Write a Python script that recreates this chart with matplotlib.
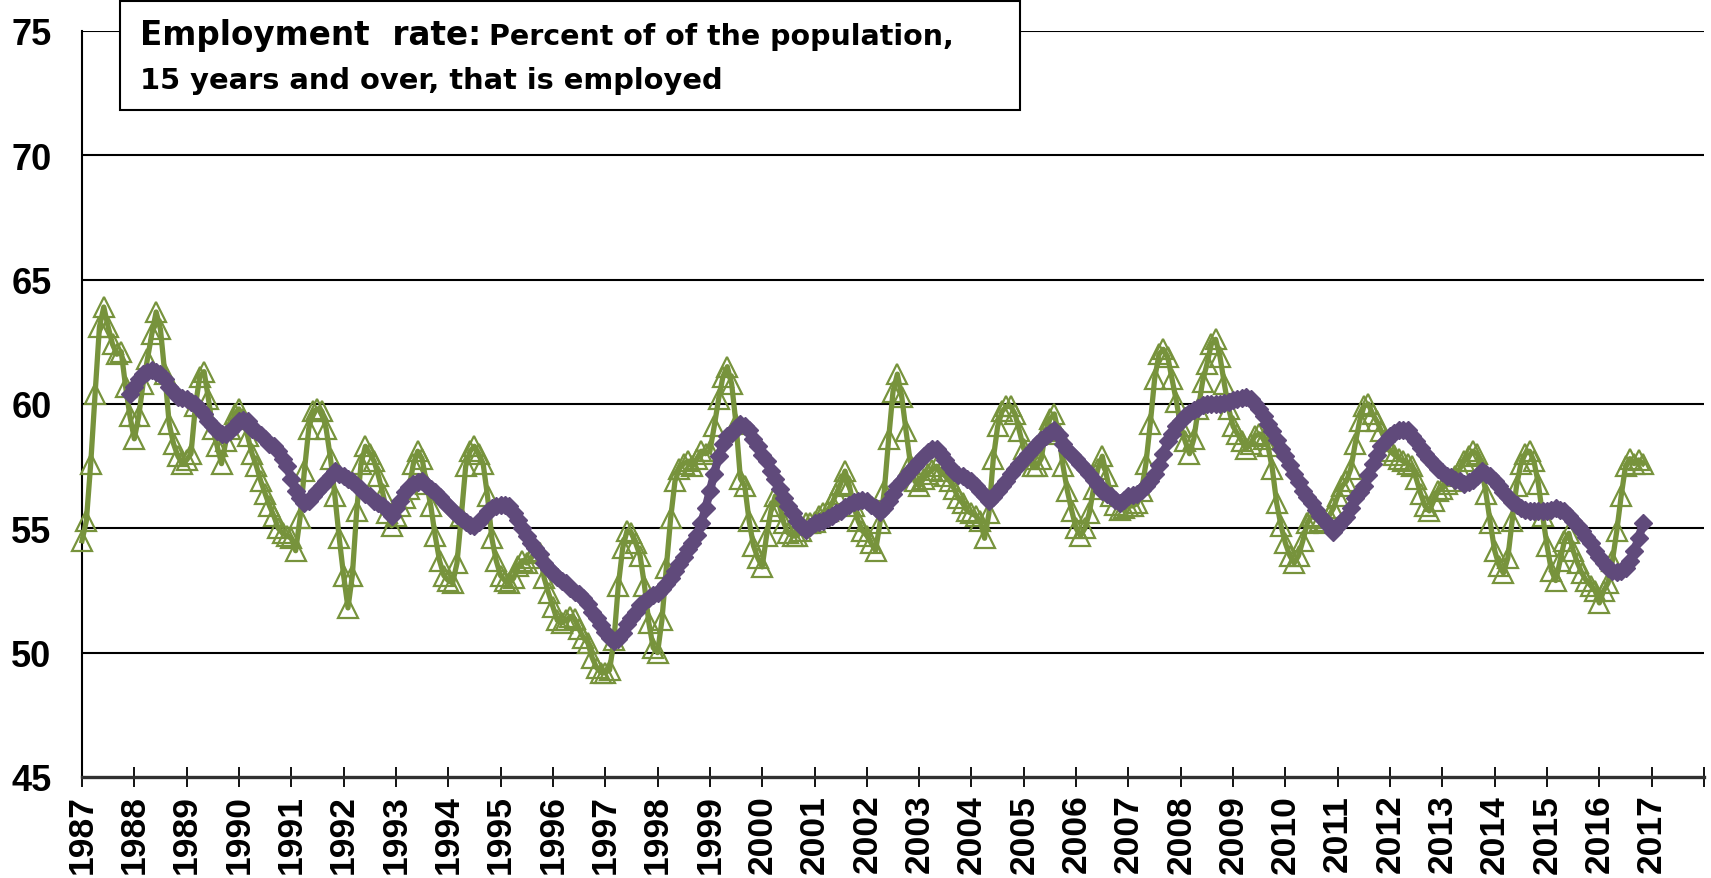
import matplotlib
matplotlib.use("Agg")
import matplotlib.pyplot as plt
import numpy as np
from matplotlib.patches import Rectangle

# ---------------- data ----------------
start_year = 1987
# monthly employment rate, Jan 1987 .. Nov 2016
employment_rate = [
    54.5, 55.3, 57.6, 60.4, 63.1, 63.9, 63.1, 62.4, 62.0, 62.1, 60.7, 59.5,   # 1987
    58.6, 59.5, 60.8, 61.8, 62.8, 63.7, 63.0, 61.2, 59.2, 58.4, 57.9, 57.6,   # 1988
    57.75, 58.0, 59.9, 61.1, 61.3, 60.2, 59.0, 58.3, 57.6, 58.5, 59.0, 59.6,  # 1989
    59.8, 59.4, 58.7, 58.0, 57.5, 56.9, 56.4, 55.9, 55.5, 55.0, 54.8, 54.7,   # 1990
    54.6, 54.1, 55.4, 57.3, 59.0, 59.7, 59.8, 59.7, 59.0, 57.8, 56.3, 54.6,   # 1991
    53.1, 51.8, 53.1, 55.7, 57.6, 58.3, 58.0, 57.7, 57.1, 56.4, 55.6, 55.1,   # 1992
    55.5, 55.9, 56.2, 56.6, 57.6, 58.1, 57.8, 56.8, 55.9, 54.7, 53.7, 53.1,   # 1993
    52.9, 52.8, 53.6, 55.5, 57.5, 58.1, 58.3, 58.0, 57.6, 56.3, 54.6, 53.7,   # 1994
    53.1, 52.9, 52.8, 53.0, 53.5, 53.7, 53.6, 53.8, 54.1, 54.0, 53.0, 52.4,   # 1995
    51.85, 51.3, 51.2, 51.3, 51.45, 51.35, 50.95, 50.6, 50.4, 49.8, 49.4, 49.2,  # 1996
    49.2, 49.3, 50.5, 52.7, 54.2, 54.9, 54.8, 54.4, 53.9, 52.7, 51.2, 50.2,   # 1997
    50.0, 51.3, 53.4, 55.4, 56.9, 57.4, 57.6, 57.7, 57.5, 57.8, 58.1, 58.0,   # 1998
    58.1, 59.1, 60.2, 61.1, 61.5, 60.8, 59.2, 57.0, 56.7, 55.3, 54.3, 53.8,   # 1999
    53.45, 54.7, 55.7, 56.3, 55.9, 55.2, 54.8, 54.7, 54.7, 54.9, 55.2, 55.2,  # 2000
    55.25, 55.5, 55.6, 55.7, 56.0, 56.4, 56.8, 57.3, 56.7, 55.9, 55.3, 54.9,  # 2001
    54.7, 54.4, 54.1, 55.2, 56.5, 58.6, 60.5, 61.2, 60.3, 58.9, 57.6, 56.9,   # 2002
    56.7, 57.0, 57.2, 57.35, 57.5, 57.3, 57.1, 56.9, 56.6, 56.2, 56.0, 55.7,  # 2003
    55.6, 55.5, 55.3, 54.6, 55.6, 57.8, 59.1, 59.7, 59.9, 59.9, 59.6, 58.9,   # 2004
    58.2, 57.8, 57.5, 57.5, 57.8, 58.9, 59.4, 59.6, 58.8, 57.5, 56.5, 55.7,   # 2005
    55.0, 54.7, 55.0, 55.6, 56.6, 57.4, 57.9, 57.1, 56.3, 55.95, 55.75, 55.8, # 2006
    55.9, 55.9, 56.0, 56.5, 57.6, 59.2, 61.0, 62.0, 62.2, 61.9, 61.0, 60.1,   # 2007
    59.1, 58.5, 58.0, 58.6, 59.8, 60.9, 61.6, 62.4, 62.6, 61.9, 60.8, 59.8,   # 2008
    59.1, 58.8, 58.5, 58.2, 58.4, 58.7, 58.8, 58.6, 58.3, 57.4, 56.0, 55.1,   # 2009
    54.4, 53.9, 53.6, 53.9, 54.5, 55.2, 55.5, 55.4, 55.3, 55.2, 55.5, 55.8,   # 2010
    56.3, 56.7, 56.9, 57.4, 58.4, 59.3, 59.9, 60.0, 59.6, 59.3, 58.9, 58.5,   # 2011
    58.1, 57.95, 57.8, 57.7, 57.6, 57.5, 57.0, 56.4, 55.9, 55.7, 56.1, 56.5,  # 2012
    56.6, 56.8, 56.9, 57.1, 57.4, 57.7, 57.9, 58.1, 58.0, 57.4, 56.4, 55.2,   # 2013
    54.1, 53.5, 53.2, 53.8, 55.3, 56.7, 57.6, 58.0, 58.1, 57.7, 56.8, 55.5,   # 2014
    54.3, 53.3, 52.9, 53.7, 54.5, 54.8, 54.1, 53.6, 53.2, 52.9, 52.7, 52.5,   # 2015
    52.0, 52.5, 52.8, 53.7, 54.9, 56.3, 57.5, 57.8, 57.6, 57.75, 57.6,        # 2016
]

# 12-month moving average, Dec 1987 .. Nov 2016
ma_first_month = 11
moving_average = [
    60.4, 60.7, 61.0, 61.2, 61.3, 61.35, 61.3, 61.2, 61.0, 60.7, 60.5, 60.3, 60.25,
    60.2, 60.1, 60.0, 59.8, 59.6, 59.3, 59.1, 58.9, 58.8, 58.8, 58.9, 59.1,
    59.3, 59.35, 59.3, 59.0, 58.9, 58.75, 58.6, 58.4, 58.3, 58.1, 57.8, 57.5,
    57.0, 56.5, 56.2, 56.0, 56.1, 56.3, 56.5, 56.7, 56.9, 57.1, 57.3, 57.2,
    57.1, 57.0, 56.9, 56.7, 56.6, 56.4, 56.3, 56.1, 56.0, 55.9, 55.75, 55.5,
    55.8, 56.1, 56.45, 56.65, 56.8, 56.85, 56.9, 56.75, 56.6, 56.45, 56.25, 56.05,
    55.9, 55.7, 55.55, 55.4, 55.25, 55.15, 55.1, 55.25, 55.45, 55.7, 55.8, 55.9,
    55.95, 55.95, 55.9, 55.6, 55.35, 55.0, 54.7, 54.4, 54.2, 53.95, 53.6, 53.35,
    53.2, 53.05, 52.9, 52.8, 52.6, 52.45, 52.35, 52.2, 51.95, 51.65, 51.4, 51.1,
    50.85, 50.6, 50.45, 50.55, 50.8, 51.15, 51.4, 51.65, 51.9, 52.05, 52.2, 52.3,
    52.4, 52.55, 52.75, 53.0, 53.3, 53.55, 53.85, 54.15, 54.4, 54.75, 55.2, 55.8,
    56.5, 57.2, 57.9, 58.4, 58.7, 58.85, 59.05, 59.2, 59.1, 58.95, 58.6, 58.3,
    57.95, 57.7, 57.3, 57.0, 56.6, 56.2, 55.9, 55.6, 55.3, 55.1, 54.95, 55.05,
    55.2, 55.25, 55.3, 55.4, 55.5, 55.6, 55.7, 55.85, 55.95, 56.05, 56.1, 56.15,
    56.1, 55.95, 55.8, 55.65, 55.8, 56.1, 56.4, 56.7, 56.9, 57.1, 57.3, 57.5,
    57.7, 57.9, 58.05, 58.2, 58.2, 58.0, 57.75, 57.45, 57.25, 57.15, 57.1, 57.0,
    56.9, 56.7, 56.5, 56.3, 56.1, 56.25, 56.5, 56.7, 56.9, 57.2, 57.4, 57.6,
    57.8, 58.0, 58.2, 58.4, 58.55, 58.7, 58.85, 58.95, 58.75, 58.4, 58.15, 57.95,
    57.8, 57.6, 57.4, 57.2, 56.95, 56.75, 56.5, 56.4, 56.3, 56.15, 56.0, 56.15,
    56.3, 56.35, 56.4, 56.55, 56.7, 56.9, 57.2, 57.55, 58.0, 58.5, 58.8, 59.1,
    59.3, 59.5, 59.65, 59.75, 59.85, 59.95, 60.0, 60.0, 60.0, 60.0, 60.05, 60.1,
    60.15, 60.2, 60.25, 60.3, 60.2, 60.0, 59.8, 59.5, 59.2, 58.9, 58.55, 58.2,
    57.9, 57.55, 57.2, 56.85, 56.5, 56.25, 56.0, 55.75, 55.5, 55.3, 55.1, 54.85,
    55.1, 55.3, 55.45, 55.8, 56.2, 56.45, 56.7, 57.15, 57.6, 57.95, 58.3, 58.5,
    58.7, 58.85, 58.95, 58.95, 58.95, 58.7, 58.5, 58.25, 58.0, 57.8, 57.6, 57.4,
    57.25, 57.1, 57.05, 56.95, 56.9, 56.8, 56.85, 56.95, 57.1, 57.3, 57.2, 57.1,
    56.9, 56.7, 56.45, 56.25, 56.05, 55.95, 55.8, 55.75, 55.7, 55.7, 55.7, 55.7,
    55.7, 55.75, 55.8, 55.75, 55.7, 55.5, 55.3, 55.1, 54.9, 54.65, 54.4, 54.1,
    53.85, 53.6, 53.4, 53.3, 53.25, 53.3, 53.4, 53.7, 54.1, 54.6, 55.2,
]

year_ticks = list(range(1987, 2019))
year_labels = [str(y) for y in range(1987, 2018)] + [""]
y_ticks = [45, 50, 55, 60, 65, 70, 75]

title_main = "Employment  rate:"
title_rest = "Percent of of the population,"
title_line2 = "15 years and over, that is employed"

# ---------------- figure ----------------
W, H = 1711, 879
fig = plt.figure(figsize=(W / 100, H / 100), dpi=100)
ax = fig.add_axes([82 / W, 1 - 778 / H, (1704 - 82) / W, (778 - 32) / H])

GREEN = "#77933C"
PURPLE = "#604A7B"

x_emp = start_year + np.arange(len(employment_rate)) / 12.0
x_ma = start_year + (ma_first_month + np.arange(len(moving_average))) / 12.0

ax.plot(x_emp, employment_rate, color=GREEN, lw=3.8, marker="^", ms=15,
        mfc="none", mec=GREEN, mew=1.6, zorder=3, clip_on=False)
ax.plot(x_ma, moving_average, color=PURPLE, lw=6, marker="D", ms=9.5,
        mfc=PURPLE, mec=PURPLE, zorder=4, clip_on=False)

ax.set_xlim(1987, 2018)
ax.set_ylim(45, 75)

for yv in y_ticks[1:]:
    ax.axhline(yv, color="black", lw=1.5, zorder=1)

for s in ["top", "right"]:
    ax.spines[s].set_visible(False)
ax.spines["left"].set_color("black")
ax.spines["left"].set_linewidth(1.5)
ax.spines["bottom"].set_color("#303030")
ax.spines["bottom"].set_linewidth(2.4)

ax.set_yticks(y_ticks)
ax.set_yticklabels([str(v) for v in y_ticks])
ax.set_xticks(year_ticks)
ax.set_xticklabels(year_labels, rotation=90)

ax.tick_params(axis="y", length=0, pad=22, labelsize=26)
ax.tick_params(axis="x", direction="inout", length=14, width=1.3, pad=5,
               labelsize=25.5, color="black")
for lab in ax.get_xticklabels() + ax.get_yticklabels():
    lab.set_fontfamily("Liberation Sans")
    lab.set_fontweight("bold")

# title box
box = Rectangle((120 / W, 1 - 111 / H), 900 / W, 109 / H, transform=fig.transFigure,
                facecolor="white", edgecolor="black", lw=1.5, zorder=10)
fig.add_artist(box)
t_main = fig.text(140 / W, 1 - 45 / H, title_main, fontsize=23.5, fontweight="bold",
                  family="DejaVu Sans", va="baseline", ha="left", zorder=11)
fig.canvas.draw()
main_end = t_main.get_window_extent(renderer=fig.canvas.get_renderer()).x1
fig.text((main_end + 8) / W, 1 - 45 / H, title_rest, fontsize=20.5, fontweight="bold",
         family="DejaVu Sans", va="baseline", ha="left", zorder=11)
fig.text(140 / W, 1 - 89 / H, title_line2, fontsize=20.8, fontweight="bold",
         family="DejaVu Sans", va="baseline", ha="left", zorder=11)

fig.savefig("out.png", dpi=100)
